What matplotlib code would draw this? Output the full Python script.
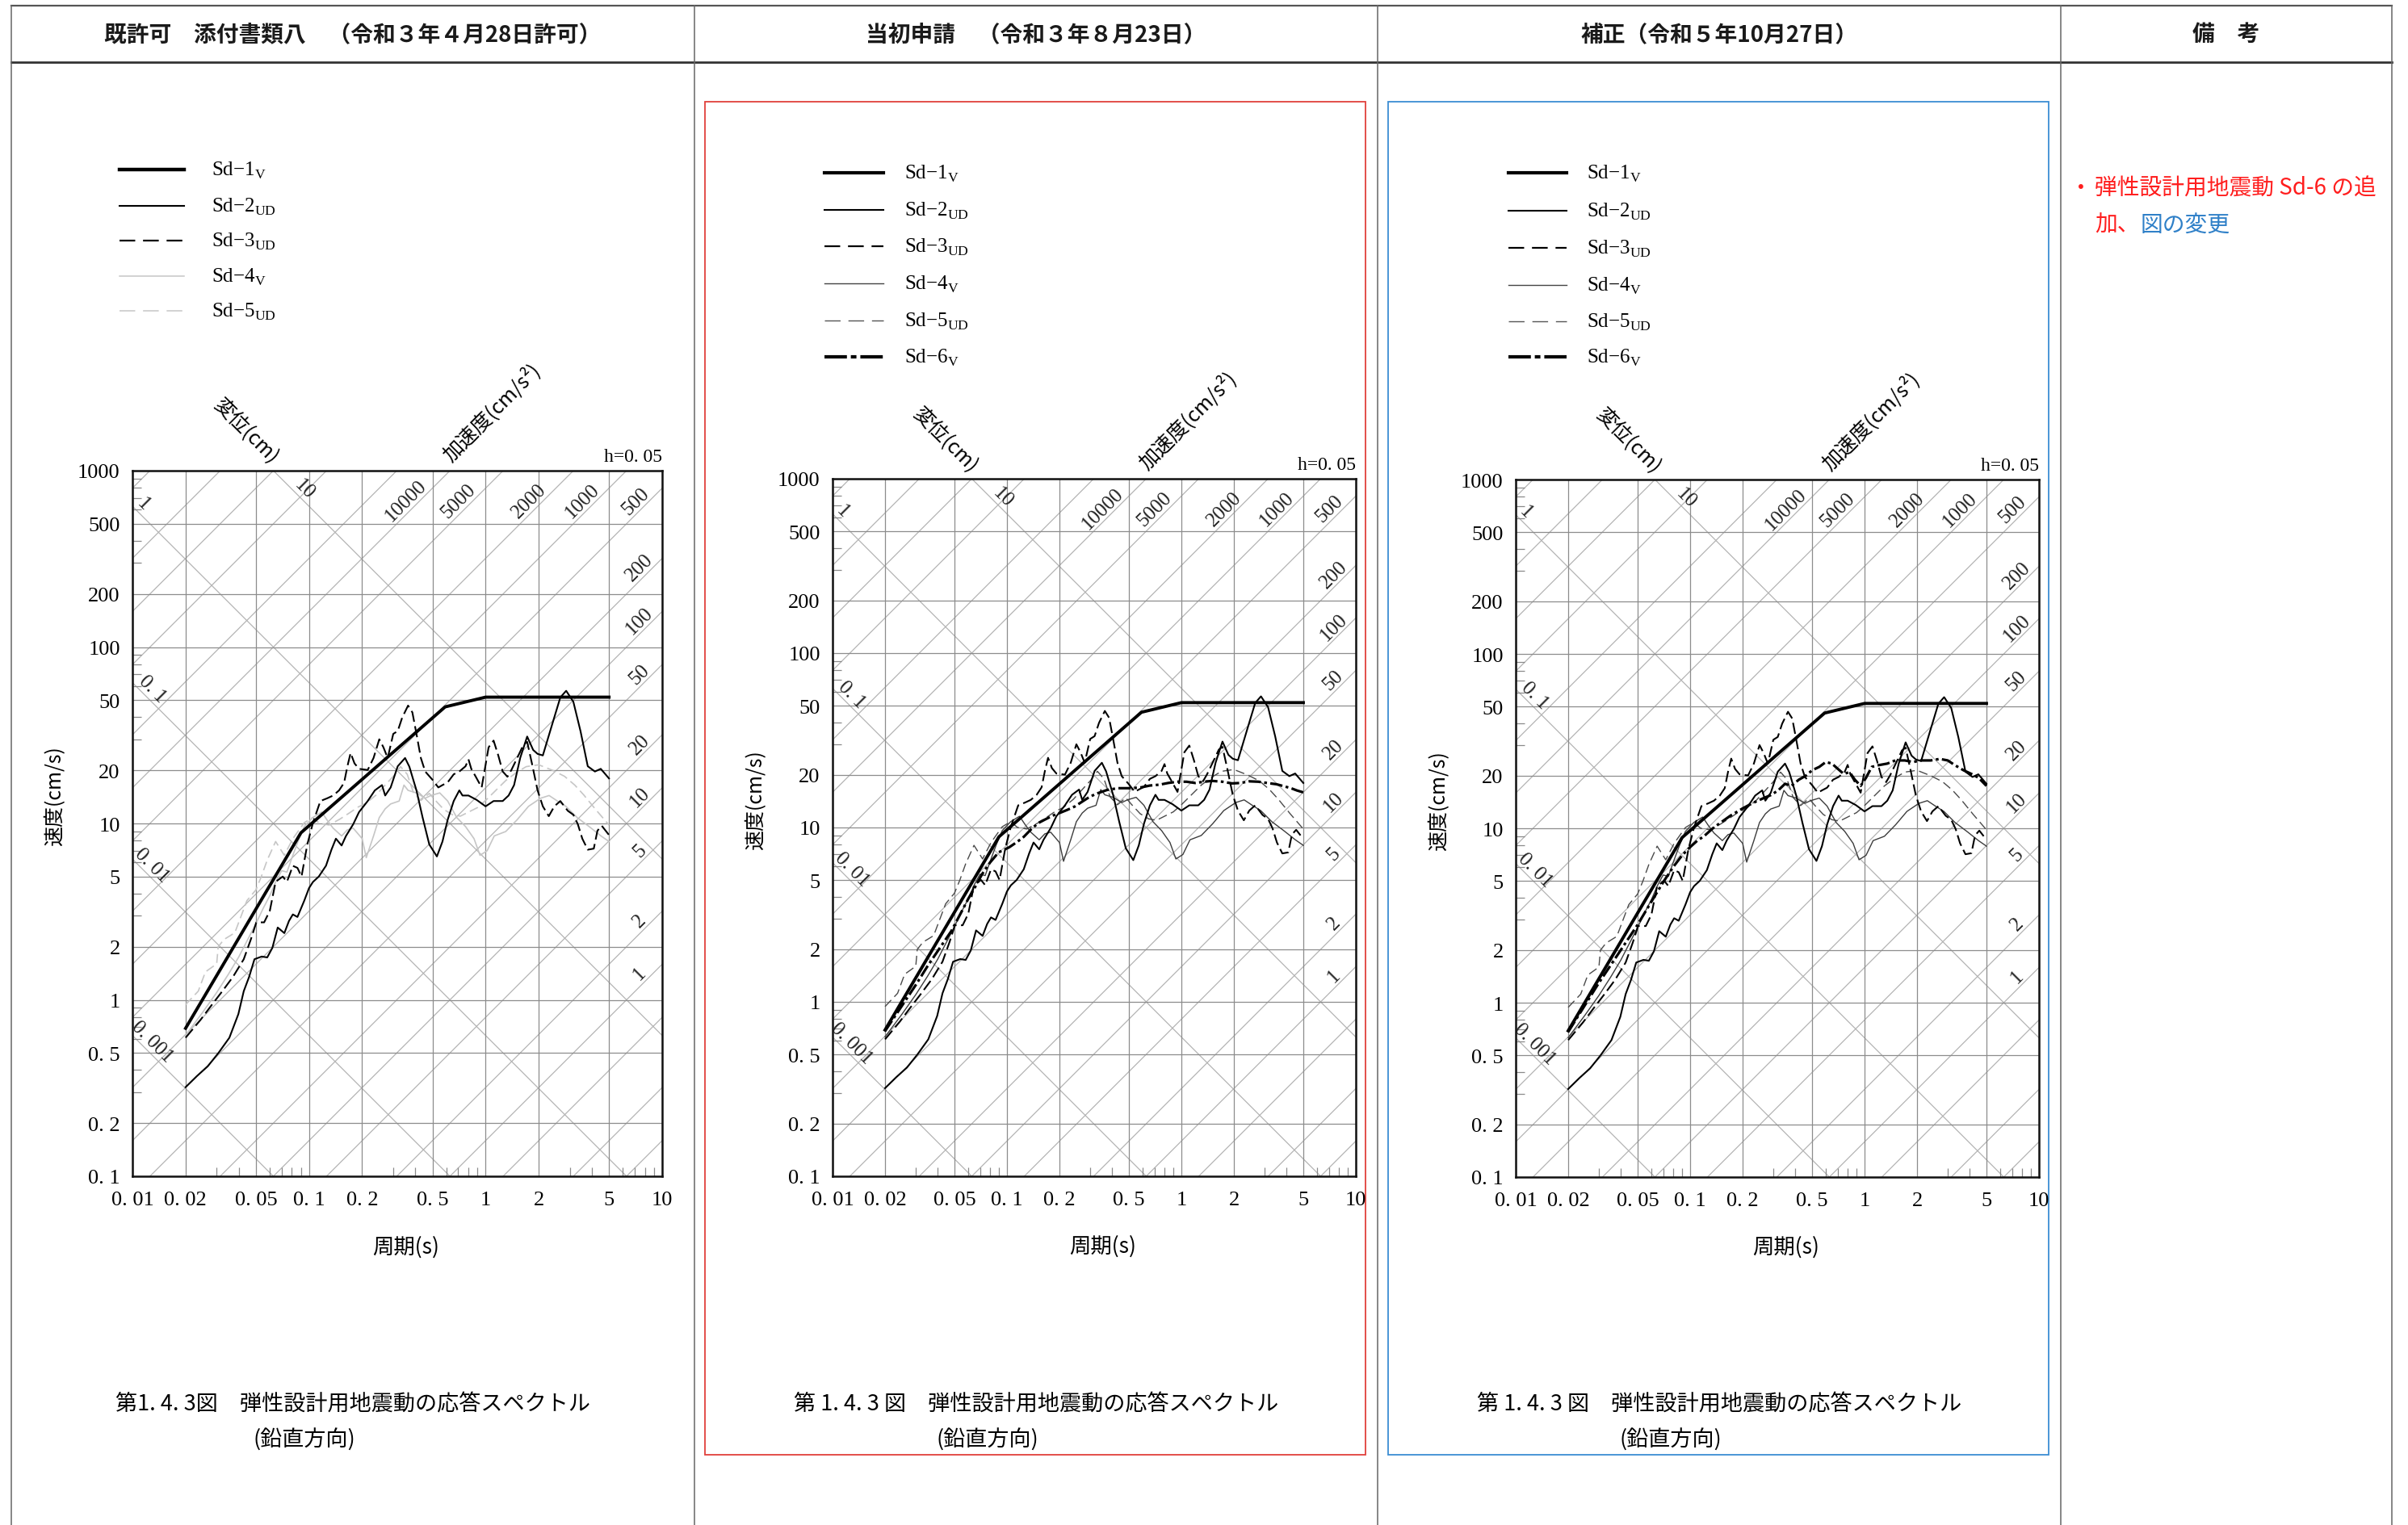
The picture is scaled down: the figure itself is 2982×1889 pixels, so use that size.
import numpy as np
import matplotlib
matplotlib.use("Agg")
import matplotlib.pyplot as plt
from matplotlib.patches import Rectangle
from matplotlib.ticker import FixedLocator, LogLocator, NullFormatter

plt.rcParams['font.family'] = ['Noto Sans CJK JP', 'DejaVu Sans']
plt.rcParams['mathtext.fontset'] = 'custom'
plt.rcParams['mathtext.rm'] = 'Liberation Serif'
plt.rcParams['lines.scale_dashes'] = False
plt.rcParams['axes.unicode_minus'] = False
SERIF = 'Liberation Serif'

# ---- 表のヘッダ ----
headers = ['既許可　添付書類八　（令和３年４月28日許可）',
           '当初申請　（令和３年８月23日）',
           '補正（令和５年10月27日）',
           '備　考']

# ---- 軸目盛 ----
x_ticks = [0.01, 0.02, 0.05, 0.1, 0.2, 0.5, 1, 2, 5, 10]
x_labels = ['0. 01', '0. 02', '0. 05', '0. 1', '0. 2', '0. 5', '1', '2', '5', '10']
y_ticks = [0.1, 0.2, 0.5, 1, 2, 5, 10, 20, 50, 100, 200, 500, 1000]
y_labels = ['0. 1', '0. 2', '0. 5', '1', '2', '5', '10', '20', '50', '100', '200', '500', '1000']

# 三軸線 (加速度 cm/s2, 変位 cm)
acc_lines = [0.1, 0.2, 0.5, 1, 2, 5, 10, 20, 50, 100, 200, 500, 1000, 2000, 5000,
             10000, 20000, 50000, 100000, 200000, 500000]
disp_lines = [0.001, 0.01, 0.1, 1, 10]
acc_top = [10000, 5000, 2000, 1000, 500]
acc_right = [200, 100, 50, 20, 10, 5, 2, 1]
disp_labels = [1, 10, 0.1, 0.01, 0.001]
disp_texts = ['1', '10', '0. 1', '0. 01', '0. 001']

# ---- 応答スペクトル (周期 s, 速度 cm/s) ----
sd1_T = [0.02, 0.09, 0.59, 1.0, 5.0]
sd1_V = [0.69, 8.85, 45.8, 52.0, 52.0]

sd2_T = [0.02, 0.0232, 0.0267, 0.0307, 0.0354, 0.0398, 0.0427, 0.0458, 0.0491, 0.054,
         0.058, 0.062, 0.0665, 0.0725, 0.077, 0.081, 0.086, 0.094, 0.1, 0.1053,
         0.1136, 0.1248, 0.134, 0.142, 0.153, 0.162, 0.178, 0.192, 0.215, 0.236,
         0.259, 0.27, 0.29, 0.318, 0.35, 0.37, 0.406, 0.44, 0.48, 0.53,
         0.57, 0.61, 0.66, 0.71, 0.74, 0.80, 0.89, 1.0, 1.11, 1.25,
         1.35, 1.45, 1.57, 1.72, 1.86, 1.97, 2.11, 2.37, 2.65, 2.86,
         3.14, 3.45, 3.79, 4.16, 4.49, 5.0]
sd2_V = [0.32, 0.37, 0.42, 0.50, 0.61, 0.83, 1.12, 1.35, 1.70, 1.76,
         1.74, 1.97, 2.57, 2.39, 2.8, 3.05, 2.95, 3.65, 4.3, 4.66,
         5.0, 5.76, 7.1, 8.2, 7.5, 8.5, 9.9, 11.6, 13.4, 15.4,
         16.5, 14.4, 16.0, 21.1, 23.5, 21.0, 15.4, 10.8, 7.6, 6.5,
         7.9, 10.5, 13.4, 15.4, 14.4, 14.4, 13.6, 12.5, 13.4, 13.4,
         14.4, 16.5, 23.5, 31.1, 26.1, 24.8, 24.3, 35.8, 51.8, 56.5,
         49.0, 33.3, 21.1, 19.7, 20.4, 18.0]

sd3_T = [0.02, 0.0243, 0.028, 0.0323, 0.0371, 0.0427, 0.0469, 0.0503, 0.0557, 0.06,
         0.0647, 0.071, 0.075, 0.081, 0.086, 0.0907, 0.0978, 0.1053, 0.116, 0.127,
         0.137, 0.148, 0.158, 0.165, 0.172, 0.181, 0.192, 0.215, 0.232, 0.25,
         0.264, 0.279, 0.3, 0.318, 0.337, 0.364, 0.385, 0.406, 0.43, 0.455,
         0.5, 0.54, 0.57, 0.61, 0.66, 0.71, 0.77, 0.80, 0.83, 0.88,
         0.95, 1.0, 1.04, 1.11, 1.18, 1.25, 1.33, 1.40, 1.51, 1.64,
         1.72, 1.83, 1.97, 2.11, 2.28, 2.45, 2.65, 2.92, 3.14, 3.33,
         3.53, 3.79, 4.1, 4.3, 4.55, 5.0]
sd3_V = [0.61, 0.77, 0.93, 1.12, 1.35, 1.70, 2.21, 2.75, 2.75, 3.2,
         4.67, 5.0, 4.67, 5.75, 5.6, 5.0, 7.6, 10.1, 13.4, 13.9,
         14.4, 15.4, 17.0, 21.1, 25.1, 21.9, 20.4, 20.1, 23.5, 30.0,
         27.0, 23.5, 32.2, 33.4, 39.8, 46.6, 42.6, 32.2, 23.5, 19.7,
         17.7, 16.0, 16.5, 17.1, 19.0, 19.7, 21.1, 23.1, 20.4, 18.4,
         16.0, 21.5, 27.0, 29.5, 24.3, 19.7, 18.4, 20.1, 23.5, 28.0,
         29.0, 21.9, 15.4, 12.5, 11.0, 12.5, 13.4, 11.8, 11.2, 9.9,
         8.2, 7.1, 7.2, 9.1, 9.7, 8.6]

sd4_T = [0.02, 0.025, 0.03, 0.035, 0.04, 0.045, 0.05, 0.055, 0.06, 0.065,
         0.07, 0.075, 0.081, 0.087, 0.094, 0.105, 0.118, 0.127, 0.137, 0.153,
         0.165, 0.178, 0.2, 0.211, 0.232, 0.25, 0.27, 0.29, 0.324, 0.345,
         0.364, 0.406, 0.455, 0.49, 0.55, 0.61, 0.687, 0.77, 0.86, 0.93,
         1.02, 1.12, 1.3, 1.51, 1.75, 2.05, 2.29, 2.55, 2.85, 3.3,
         3.86, 4.5, 5.0]
sd4_V = [0.63, 0.85, 1.1, 1.4, 1.75, 2.2, 2.7, 3.3, 3.9, 4.7,
         5.4, 5.3, 6.6, 8.0, 9.6, 10.8, 11.6, 10.4, 9.4, 8.5,
         9.2, 9.4, 8.2, 6.4, 8.5, 10.8, 12.1, 12.9, 13.4, 16.5,
         15.4, 14.9, 13.9, 14.4, 14.9, 13.4, 10.8, 9.6, 8.2, 6.6,
         7.0, 8.5, 9.0, 10.5, 12.5, 13.9, 14.4, 13.4, 12.5, 10.8,
         9.6, 8.5, 7.9]

sd5_T = [0.02, 0.0236, 0.0259, 0.03, 0.0306, 0.033, 0.0355, 0.038, 0.0445, 0.05,
         0.0537, 0.058, 0.0647, 0.0725, 0.081, 0.094, 0.105, 0.115, 0.13, 0.15,
         0.17, 0.19, 0.21, 0.24, 0.27, 0.3, 0.33, 0.36, 0.39, 0.43,
         0.48, 0.52, 0.58, 0.65, 0.72, 0.8, 0.9, 1.0, 1.15, 1.3,
         1.5, 1.7, 2.0, 2.4, 2.8, 3.2, 3.6, 4.2, 4.6, 5.0]
sd5_V = [0.94, 1.12, 1.44, 1.6, 2.0, 2.2, 2.3, 2.4, 3.65, 4.2,
         5.0, 6.2, 7.9, 6.6, 8.2, 10.1, 10.8, 10.0, 9.8, 10.6,
         11.5, 12.4, 13.0, 14.5, 16.5, 18.5, 21.0, 19.0, 15.0, 13.5,
         14.8, 13.5, 12.0, 11.2, 11.0, 11.6, 12.3, 13.5, 15.5, 17.5,
         19.5, 21.0, 21.5, 20.0, 18.5, 16.5, 14.5, 12.0, 10.8, 9.8]

# Sd-6 当初申請
sd6a_T = [0.02, 0.025, 0.03, 0.035, 0.04, 0.048, 0.055, 0.06, 0.066, 0.072,
          0.08, 0.0895, 0.103, 0.115, 0.125, 0.138, 0.151, 0.165, 0.183, 0.2,
          0.221, 0.245, 0.268, 0.295, 0.324, 0.374, 0.431, 0.52, 0.59, 0.66,
          0.75, 0.84, 0.95, 1.07, 1.2, 1.35, 1.5, 1.72, 1.95, 2.18,
          2.45, 2.77, 3.1, 3.51, 3.9, 4.25, 4.6, 5.0]
sd6a_V = [0.68, 0.95, 1.25, 1.6, 1.95, 2.55, 3.3, 3.9, 4.6, 5.4,
          6.3, 7.2, 7.7, 8.3, 8.85, 9.8, 10.6, 11.1, 11.7, 12.1,
          12.6, 13.2, 14.0, 14.9, 15.6, 16.4, 16.8, 16.8, 17.0, 17.4,
          17.6, 18.0, 18.3, 18.3, 18.0, 18.3, 18.5, 18.3, 17.9, 18.0,
          18.4, 18.3, 18.0, 17.7, 17.2, 16.8, 16.3, 15.9]

# Sd-6 補正
sd6b_T = [0.02, 0.03, 0.04, 0.05, 0.06, 0.07, 0.08, 0.09, 0.1, 0.11,
          0.12, 0.135, 0.15, 0.17, 0.2, 0.23, 0.26, 0.29, 0.32, 0.35,
          0.38, 0.42, 0.46, 0.5, 0.55, 0.6, 0.65, 0.7, 0.76, 0.82,
          0.88, 0.95, 1.02, 1.1, 1.2, 1.35, 1.5, 1.7, 1.9, 2.1,
          2.4, 2.7, 3.0, 3.3, 3.7, 4.1, 4.5, 5.0]
sd6b_V = [0.68, 1.3, 2.0, 2.8, 3.8, 4.9, 6.0, 7.0, 7.8, 8.5,
          9.0, 10.0, 10.8, 11.8, 13.0, 14.0, 14.8, 15.5, 16.5, 18.0,
          17.5, 19.0, 20.0, 21.5, 22.5, 24.0, 23.5, 22.0, 20.5, 21.0,
          19.0, 17.5, 19.5, 22.5, 23.0, 23.5, 24.5, 24.5, 24.0, 24.5,
          24.5, 25.0, 24.5, 23.0, 21.5, 20.5, 19.5, 17.5]

W, H = 2982, 1890
fig = plt.figure(figsize=(W / 100, H / 100), dpi=100)
bg = fig.add_axes([0, 0, 1, 1], zorder=0)
bg.set_xlim(0, W)
bg.set_ylim(H, 0)
bg.axis('off')

# 表の罫線
col_x = [14, 860, 1706, 2552, 2962]
bg.plot([col_x[0], col_x[-1]], [8, 8], color='#555555', lw=1.6)
bg.plot([col_x[0], col_x[-1]], [78, 78], color='#333333', lw=2.0)
for x in col_x:
    bg.plot([x, x], [8, H], color='#666666', lw=1.1)
centers = [(col_x[i] + col_x[i + 1]) / 2 for i in range(4)]
for c, t in zip(centers, headers):
    bg.text(c, 43, t, ha='center', va='center', fontsize=20, fontweight='bold', color='#1a1a1a')

# 変更箇所の枠
bg.add_patch(Rectangle((873, 127), 818, 1676, fill=False, ec='#e0403c', lw=1.3))
bg.add_patch(Rectangle((1719, 127), 818, 1676, fill=False, ec='#3b8ed3', lw=1.3))

# 備考
RED, BLUE = '#ff1e1e', '#2f80c8'
bg.text(2577, 234, '・', ha='center', va='center', fontsize=20, color=RED)
bg.text(2594, 234, '弾性設計用地震動 Sd-6 の追', ha='left', va='center', fontsize=20, color=RED)
bg.text(2594, 279, '加、', ha='left', va='center', fontsize=20, color=RED)
bg.text(2651, 279, '図の変更', ha='left', va='center', fontsize=20, color=BLUE)

DIAG = '#b4b4b4'
GRID = '#8c8c8c'


def draw_chart(rect, curves):
    x0, y0, w, h = rect
    ax = fig.add_axes([x0 / W, 1 - (y0 + h) / H, w / W, h / H], zorder=2)
    ax.patch.set_alpha(0)
    t_end = np.array([0.01, 10.0])
    for a in acc_lines:
        ax.plot(t_end, a * t_end / (2 * np.pi), color=DIAG, lw=0.9, zorder=1)
    for d in disp_lines:
        ax.plot(t_end, 2 * np.pi * d / t_end, color=DIAG, lw=0.9, zorder=1)
    for T, V, st in curves:
        ax.plot(T, V, zorder=3, solid_joinstyle='round', **st)
    ax.set_xscale('log')
    ax.set_yscale('log')
    ax.set_xlim(0.01, 10)
    ax.set_ylim(0.1, 1000)
    ax.xaxis.set_major_locator(FixedLocator(x_ticks))
    ax.yaxis.set_major_locator(FixedLocator(y_ticks))
    ax.set_xticklabels(x_labels, fontfamily=SERIF, fontsize=19)
    ax.set_yticklabels(y_labels, fontfamily=SERIF, fontsize=19)
    ax.xaxis.set_minor_locator(LogLocator(base=10, subs=[3, 4, 6, 7, 8, 9]))
    ax.yaxis.set_minor_locator(LogLocator(base=10, subs=[3, 4, 6, 7, 8, 9]))
    ax.xaxis.set_minor_formatter(NullFormatter())
    ax.yaxis.set_minor_formatter(NullFormatter())
    ax.tick_params(which='major', length=0, pad=11)
    ax.tick_params(axis='x', which='major', pad=13)
    ax.tick_params(which='minor', direction='in', length=8, width=0.9, color='#8a8a8a')
    ax.grid(which='major', color=GRID, lw=0.9, zorder=1)
    for s in ax.spines.values():
        s.set_linewidth(1.8)
        s.set_color('#111111')

    # 三軸ラベル
    for a in acc_top:
        lv = 2.83
        lt = lv - np.log10(a / (2 * np.pi)) - 0.08
        ax.text(10 ** lt, 10 ** lv, str(a), rotation=45, ha='center', va='center',
                fontfamily=SERIF, fontsize=18, color='#222222', rotation_mode='anchor')
    for a in acc_right:
        lt = 0.873
        lv = lt + np.log10(a / (2 * np.pi)) + 0.075
        ax.text(10 ** lt, 10 ** lv, str(a), rotation=45, ha='center', va='center',
                fontfamily=SERIF, fontsize=18, color='#222222', rotation_mode='anchor')
    for d, s in zip(disp_labels, disp_texts):
        lt = {1: -1.94, 10: -1.024}.get(d, -1.89)
        lv = np.log10(2 * np.pi * d) - lt + 0.075
        ax.text(10 ** lt, 10 ** lv, s, rotation=-45, ha='center', va='center',
                fontfamily=SERIF, fontsize=18, color='#222222', rotation_mode='anchor')

    ax.text(1.0, 1.008, 'h=0. 05', transform=ax.transAxes, ha='right', va='bottom',
            fontfamily=SERIF, fontsize=17)
    ax.text(0.215, 1.056, '変位(cm)', transform=ax.transAxes, rotation=-45,
            ha='center', va='center', fontsize=18)
    ax.text(0.678, 1.084, '加速度(cm/s²)', transform=ax.transAxes, rotation=45,
            ha='center', va='center', fontsize=18)
    ax.text(-0.146, 0.54, '速度(cm/s)', transform=ax.transAxes, rotation=90,
            ha='center', va='center', fontsize=18)
    ax.text(0.516, -0.10, '周期(s)', transform=ax.transAxes,
            ha='center', va='center', fontsize=19)
    return ax


DASH = (0, (10, 4))
DASHDOT = (0, (11, 3, 2.5, 3))
st1 = dict(color='black', lw=2.8)
st2 = dict(color='black', lw=1.5)
st3 = dict(color='black', lw=1.5, linestyle=DASH)
st4_light = dict(color='#c6c6c6', lw=1.2)
st5_light = dict(color='#c6c6c6', lw=1.2, linestyle=(0, (8, 4)))
st4 = dict(color='#3c3c3c', lw=1.0)
st5 = dict(color='#4a4a4a', lw=1.0, linestyle=(0, (8, 4)))
st6 = dict(color='black', lw=2.3, linestyle=DASHDOT)

base_light = [(sd5_T, sd5_V, st5_light), (sd4_T, sd4_V, st4_light),
              (sd3_T, sd3_V, st3), (sd2_T, sd2_V, st2), (sd1_T, sd1_V, st1)]
draw_chart((164, 584, 656, 874), base_light)
draw_chart((1031, 594, 648, 864),
           [(sd5_T, sd5_V, st5), (sd4_T, sd4_V, st4), (sd3_T, sd3_V, st3),
            (sd2_T, sd2_V, st2), (sd6a_T, sd6a_V, st6), (sd1_T, sd1_V, st1)])
draw_chart((1877, 595, 648, 864),
           [(sd5_T, sd5_V, st5), (sd4_T, sd4_V, st4), (sd3_T, sd3_V, st3),
            (sd2_T, sd2_V, st2), (sd6b_T, sd6b_V, st6), (sd1_T, sd1_V, st1)])

# 凡例
leg_names = ['Sd−1$_{\\mathrm{V}}$', 'Sd−2$_{\\mathrm{UD}}$', 'Sd−3$_{\\mathrm{UD}}$',
             'Sd−4$_{\\mathrm{V}}$', 'Sd−5$_{\\mathrm{UD}}$', 'Sd−6$_{\\mathrm{V}}$']
leg_st_light = [dict(color='black', lw=3.2), dict(color='black', lw=1.5),
                dict(color='black', lw=1.6, linestyle=(0, (14, 7))),
                dict(color='#c6c6c6', lw=1.1),
                dict(color='#c6c6c6', lw=1.1, linestyle=(0, (14, 7)))]
leg_st = [dict(color='black', lw=3.0), dict(color='black', lw=1.5),
          dict(color='black', lw=1.6, linestyle=(0, (14, 7))),
          dict(color='#444444', lw=1.0),
          dict(color='#555555', lw=1.0, linestyle=(0, (14, 7))),
          dict(color='black', lw=3.0, linestyle=(0, (20, 3.5, 5, 3.5)))]
legends = [((148, 228, 262), [211, 256, 299, 343, 386], leg_st_light),
           ((1021, 1094, 1120), [215, 261, 306, 352, 398, 443], leg_st),
           ((1868, 1940, 1965), [215, 262, 308, 354, 399, 443], leg_st)]
for (xa, xb, xt), rows, sts in legends:
    for y, name, st in zip(rows, leg_names, sts):
        bg.plot([xa, xb], [y, y], **st)
        bg.text(xt, y, name, ha='left', va='center', fontfamily=SERIF, fontsize=18)

# 図番号
for i, c in enumerate(centers[:3]):
    fig_no = '第1. 4. 3図' if i == 0 else '第 1. 4. 3 図'
    bg.text(c, 1740, fig_no + '　弾性設計用地震動の応答スペクトル', ha='center', va='center',
            fontsize=19.5)
    bg.text(c - 60, 1784, '(鉛直方向)', ha='center', va='center', fontsize=19.5)

fig.savefig('out.png', dpi=100)
